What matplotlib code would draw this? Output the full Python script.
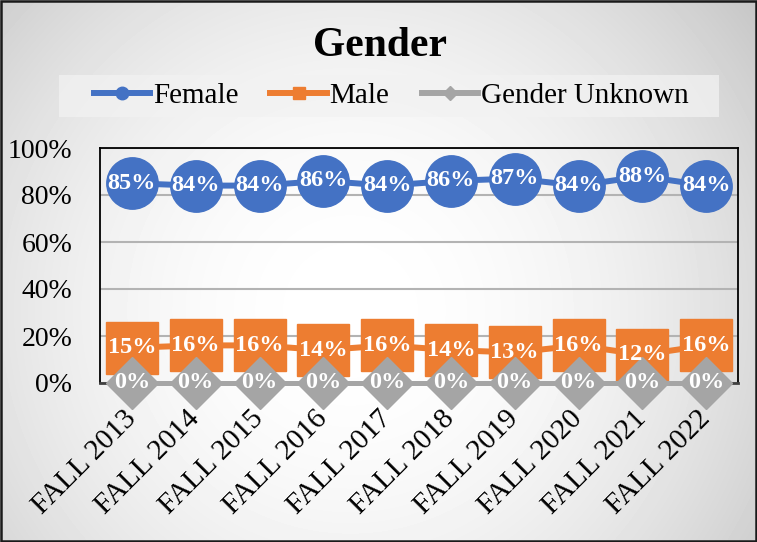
import numpy as np
import matplotlib
matplotlib.use("Agg")
import matplotlib.pyplot as plt
from matplotlib.patches import Rectangle
from matplotlib.lines import Line2D

# -----------------------------
# Data
# -----------------------------
terms = ["FALL 2013", "FALL 2014", "FALL 2015", "FALL 2016", "FALL 2017",
         "FALL 2018", "FALL 2019", "FALL 2020", "FALL 2021", "FALL 2022"]
female = [85, 84, 84, 86, 84, 86, 87, 84, 88, 84]
male = [15, 16, 16, 14, 16, 14, 13, 16, 12, 16]
unknown = [0, 0, 0, 0, 0, 0, 0, 0, 0, 0]

BLUE = "#4472C4"
ORANGE = "#ED7D31"
GRAY = "#A5A5A5"
SERIF = "Liberation Serif"

W, H = 757, 542
fig = plt.figure(figsize=(W / 100, H / 100), dpi=100)

# -----------------------------
# Radial gradient background
# -----------------------------
bg = fig.add_axes([0, 0, 1, 1], zorder=-10)
yy, xx = np.mgrid[0:H, 0:W]
d2 = (xx - 350) ** 2 + (yy - 310) ** 2
shade = np.clip(255 - 2.2e-4 * d2, 190, 255) / 255
bg.imshow(shade, cmap="gray", vmin=0, vmax=1, aspect="auto", extent=[0, W, H, 0])
bg.set_xlim(0, W)
bg.set_ylim(H, 0)
bg.axis("off")

# outer border
fig.patches.append(Rectangle((0.001, 0.001), 0.998, 0.997, transform=fig.transFigure,
                             fill=False, edgecolor="#1a1a1a", linewidth=1.8))

# legend band
fig.patches.append(Rectangle((59 / W, 1 - 117 / H), (719 - 59) / W, 42 / H,
                             transform=fig.transFigure, facecolor="#f2f2f2",
                             alpha=0.75, edgecolor="none"))

# -----------------------------
# Plot area
# -----------------------------
ax = fig.add_axes([100 / W, 1 - 383 / H, 638 / W, 235 / H])
ax.patch.set_alpha(0)
x = np.arange(len(terms))

ax.plot(x, female, color=BLUE, lw=4.3, marker="o", ms=37, zorder=3, clip_on=False)
ax.plot(x, male, color=ORANGE, lw=4.3, marker="s", ms=38, zorder=4, clip_on=False)
ax.plot(x, unknown, color=GRAY, lw=3.6, marker="D", ms=26, zorder=5, clip_on=False)

for series in (female, male, unknown):
    for xi, v in zip(x, series):
        ax.text(xi, v, f"{v}%", ha="center", va="center", color="white",
                fontsize=17.5, fontweight="bold", family=SERIF, zorder=10)

ax.set_xlim(-0.5, len(terms) - 0.5)
ax.set_ylim(0, 100)
ax.set_yticks(range(0, 101, 20))
ax.set_yticklabels([f"{t}%" for t in range(0, 101, 20)], family=SERIF, fontsize=20)
ax.yaxis.grid(True, color="#b3b3b3", lw=1.5, zorder=0)
ax.set_axisbelow(True)
ax.tick_params(axis="both", length=0)
ax.tick_params(axis="y", pad=20)
ax.tick_params(axis="x", pad=23)

ax.set_xticks(x)
ax.set_xticklabels(terms, family=SERIF, fontsize=21, rotation=45,
                   ha="right", va="center", rotation_mode="anchor")

for side in ("top", "left", "right"):
    ax.spines[side].set_color("black")
    ax.spines[side].set_linewidth(1.3)
ax.spines["bottom"].set_color("#404040")
ax.spines["bottom"].set_linewidth(2)

# -----------------------------
# Title and legend
# -----------------------------
fig.text(380 / W, 1 - 46 / H, "Gender", ha="center", va="center",
         family=SERIF, fontsize=30, fontweight="bold")

handles = [
    Line2D([], [], color=BLUE, lw=4.3, marker="o", ms=9),
    Line2D([], [], color=ORANGE, lw=4.3, marker="s", ms=8.5),
    Line2D([], [], color=GRAY, lw=4.3, marker="D", ms=7),
]
fig.legend(handles, ["Female", "Male", "Gender Unknown"], ncol=3, frameon=False,
           loc="center", bbox_to_anchor=(391 / W, 1 - 96 / H),
           prop={"family": SERIF, "size": 21}, handlelength=1.95,
           handletextpad=0.08, columnspacing=1.1, borderpad=0)

fig.savefig("out.png", dpi=100)
